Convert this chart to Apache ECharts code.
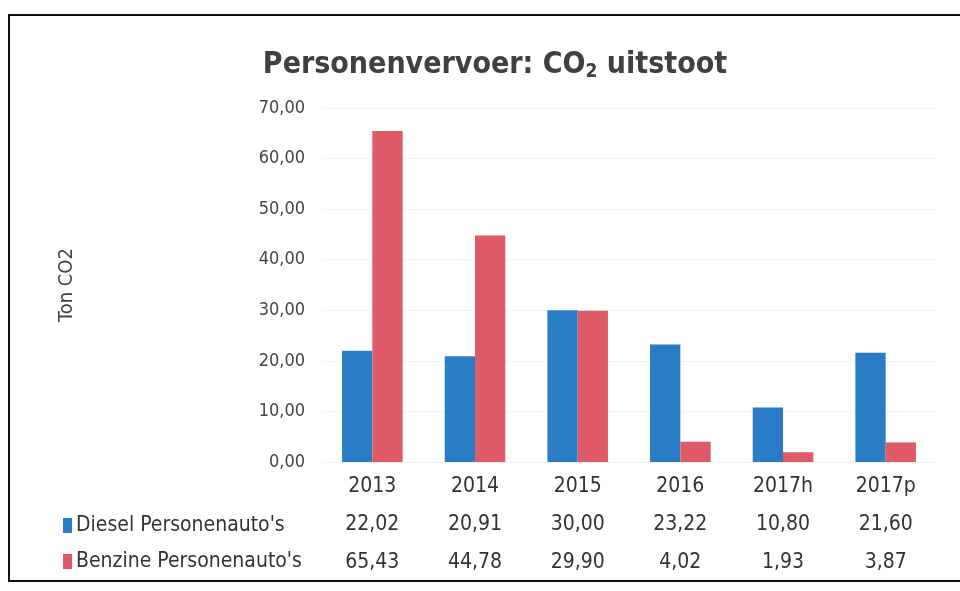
<!DOCTYPE html>
<html>
<head>
<meta charset="utf-8">
<script src="https://cdn.jsdelivr.net/npm/echarts@6/dist/echarts.min.js"></script>
<style>
  html, body { margin: 0; padding: 0; background: #fff; }
  #chart { width: 960px; height: 591px; }
</style>
</head>
<body>
<div id="chart"></div>
<script>
// data
const years = ["2013", "2014", "2015", "2016", "2017h", "2017p"];
const diesel = [22.02, 20.91, 30.0, 23.22, 10.8, 21.6];
const benzine = [65.43, 44.78, 29.9, 4.02, 1.93, 3.87];
const seriesNames = ["Diesel Personenauto's", "Benzine Personenauto's"];
const yTicks = [0, 10, 20, 30, 40, 50, 60, 70];

const FONT = "'Liberation Sans Narrow', 'DejaVu Sans Condensed', sans-serif";
const BLUE = "#2a7cc6";
const RED = "#de5a66";

const nl = v => v.toFixed(2).replace(".", ",");

const chart = echarts.init(document.getElementById("chart"));

// one extra category axis per table row, pushed down with offset
function tableAxis(values, offset) {
  return {
    type: "category",
    data: values.map(nl),
    position: "bottom",
    offset: offset,
    axisLine: { show: false },
    axisTick: { show: false },
    axisLabel: { color: "#333", fontFamily: FONT, fontSize: 21, margin: 14 }
  };
}

const option = {
  backgroundColor: "#fff",
  animation: false,
  title: {
    text: "{a|Personenvervoer: CO}{s|2}{a| uitstoot}",
    left: 490,
    textAlign: "center",
    top: 44,
    textStyle: {
      rich: {
        a: { fontFamily: FONT, fontWeight: "bold", fontSize: 30, color: "#404040" },
        s: { fontFamily: FONT, fontWeight: "bold", fontSize: 19, color: "#404040", padding: [14, 0, 0, 0] }
      }
    }
  },
  legend: {
    orient: "vertical",
    left: 58,
    top: 510,
    itemGap: 15,
    itemWidth: 9,
    itemHeight: 15,
    icon: "rect",
    data: seriesNames,
    textStyle: { color: "#333", fontFamily: FONT, fontSize: 21, padding: [0, 0, 0, -1] }
  },
  grid: { left: 321, right: 23, top: 108, bottom: 129 },
  xAxis: [
    {
      type: "category",
      data: years,
      axisLine: { show: false },
      axisTick: { show: false },
      axisLabel: { color: "#333", fontFamily: FONT, fontSize: 21, margin: 14 }
    },
    tableAxis(diesel, 38),
    tableAxis(benzine, 76)
  ],
  yAxis: {
    type: "value",
    min: yTicks[0],
    max: yTicks[yTicks.length - 1],
    interval: 10,
    name: "Ton CO2",
    nameLocation: "middle",
    nameGap: 244,
    nameTextStyle: { color: "#444", fontFamily: FONT, fontSize: 20 },
    axisLine: { show: false },
    axisTick: { show: false },
    splitLine: { lineStyle: { color: "#f4f4f4" } },
    axisLabel: { color: "#444", fontFamily: FONT, fontSize: 18, margin: 16, formatter: v => nl(v) }
  },
  series: [
    { name: seriesNames[0], type: "bar", data: diesel, itemStyle: { color: BLUE }, barGap: "0%", barCategoryGap: "41%" },
    { name: seriesNames[1], type: "bar", data: benzine, itemStyle: { color: RED }, barGap: "0%", barCategoryGap: "41%" }
  ],
  graphic: [
    {
      type: "rect",
      shape: { x: 9, y: 15, width: 980, height: 566 },
      style: { fill: null, stroke: "#111", lineWidth: 2 },
      silent: true
    }
  ]
};

chart.setOption(option);
</script>
</body>
</html>
